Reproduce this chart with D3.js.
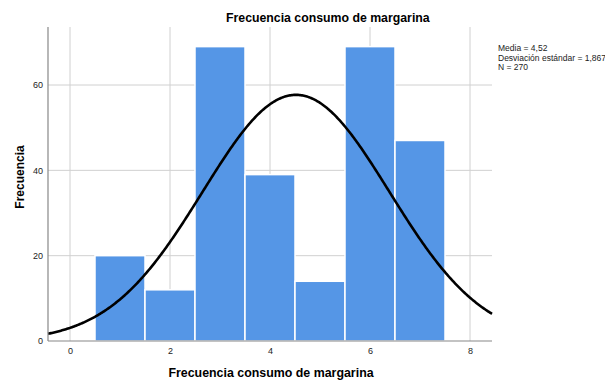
<!DOCTYPE html>
<html><head><meta charset="utf-8">
<script src="https://cdn.jsdelivr.net/npm/d3@7"></script>
<style>body{margin:0;background:#fff}svg{display:block}text{font-family:Arial,"Liberation Sans",sans-serif}</style>
</head><body>
<svg id="c" width="605" height="381"></svg>
<script>
const categories = [1, 2, 3, 4, 5, 6, 7];
const counts = [20, 12, 69, 39, 14, 69, 47];
const xTicks = [0, 2, 4, 6, 8];
const yTicks = [0, 20, 40, 60];
const mean = 4.52, sd = 1.867, n = 270;
const legendLines = ["Media = 4,52", "Desviación estándar = 1,867", "N = 270"];

const svg = d3.select("#c");
const L = 48, R = 492, B = 341, T = 27;
const x = d3.scaleLinear().domain([-0.44, 8.44]).range([L, R]);
const y = d3.scaleLinear().domain([0, 73.6]).range([B, T]);

// gridlines
svg.append("g").selectAll("line").data(xTicks).join("line")
  .attr("x1", d => x(d)).attr("x2", d => x(d)).attr("y1", y(0)).attr("y2", T)
  .attr("stroke", "#d0d0d0").attr("stroke-width", 1);
svg.append("g").selectAll("line").data(yTicks.filter(d => d > 0)).join("line")
  .attr("x1", L).attr("x2", R).attr("y1", d => y(d)).attr("y2", d => y(d))
  .attr("stroke", "#d0d0d0").attr("stroke-width", 1);

// bars
svg.append("g").selectAll("rect").data(categories).join("rect")
  .attr("x", d => x(d - 0.5))
  .attr("width", x(1) - x(0))
  .attr("y", (d, i) => y(counts[i]))
  .attr("height", (d, i) => y(0) - y(counts[i]))
  .attr("fill", "#5596e6").attr("stroke", "#ffffff").attr("stroke-width", 1.5);

// normal curve
const pdf = v => n / (sd * Math.sqrt(2 * Math.PI)) * Math.exp(-0.5 * ((v - mean) / sd) ** 2);
const pts = d3.range(-0.44, 8.441, 0.02).map(v => [v, pdf(v)]);
svg.append("path").datum(pts)
  .attr("d", d3.line().x(d => x(d[0])).y(d => y(d[1])))
  .attr("fill", "none").attr("stroke", "#000").attr("stroke-width", 2.6);

// axes
const xAxis = svg.append("g").attr("transform", `translate(0,${y(0)})`)
  .call(d3.axisBottom(x).tickValues(xTicks).tickSize(0).tickPadding(7));
const yAxis = svg.append("g").attr("transform", `translate(${L},0)`)
  .call(d3.axisLeft(y).tickValues(yTicks).tickSize(0).tickPadding(5));
[xAxis, yAxis].forEach(a => {
  a.select(".domain").attr("stroke", "#888").attr("stroke-width", 1.2);
  a.selectAll("text").attr("font-size", 9).attr("fill", "#222").attr("font-family", "Arial, 'Liberation Sans', sans-serif");
});
xAxis.select(".domain").attr("d", `M${L},0H${R}`);
yAxis.select(".domain").attr("d", `M0,${y(0)}V${T}`);

// title & labels
svg.append("text").attr("x", 226).attr("y", 22).attr("text-anchor", "start")
  .attr("font-size", 12.3).attr("font-weight", "bold").text("Frecuencia consumo de margarina");
svg.append("text").attr("x", 271).attr("y", 377).attr("text-anchor", "middle")
  .attr("font-size", 12.4).attr("font-weight", "bold").text("Frecuencia consumo de margarina");
svg.append("text").attr("transform", "translate(24,177) rotate(-90)").attr("text-anchor", "middle")
  .attr("font-size", 12).attr("font-weight", "bold").text("Frecuencia");

// legend
svg.append("g").selectAll("text").data(legendLines).join("text")
  .attr("x", 498).attr("y", (d, i) => 51 + i * 9.5)
  .attr("font-size", 8.5).attr("fill", "#222").text(d => d);
</script>
</body></html>
